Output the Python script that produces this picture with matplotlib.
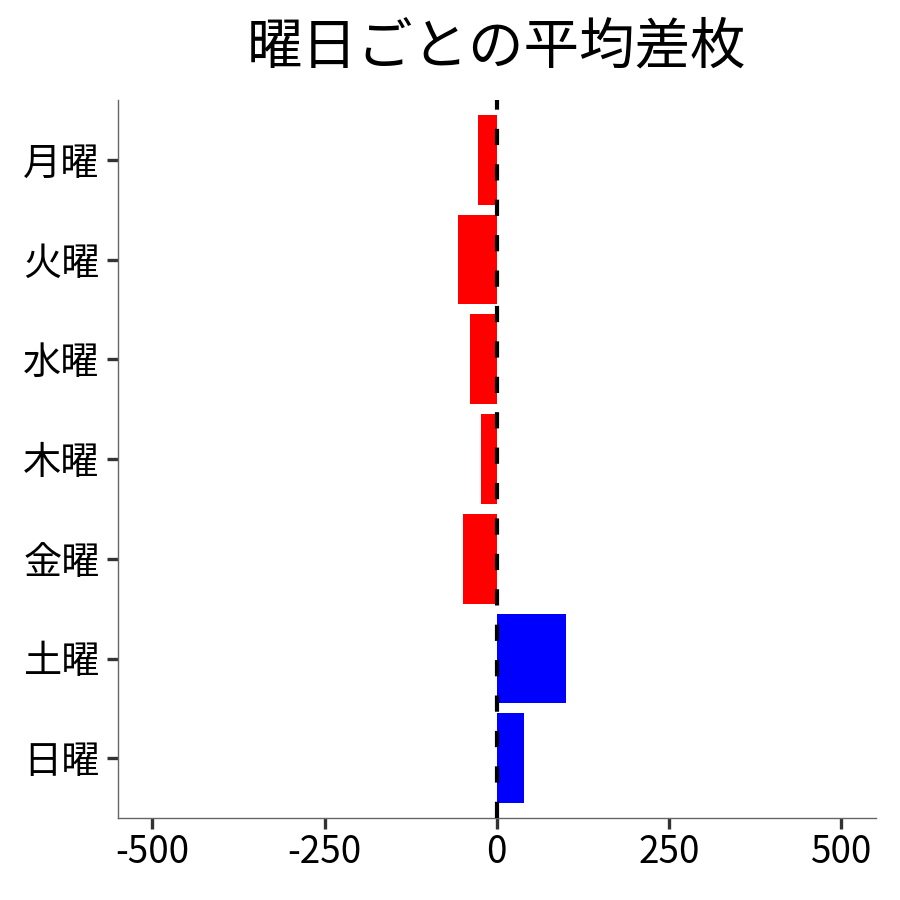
import numpy as np
import matplotlib
matplotlib.use("Agg")
import matplotlib.pyplot as plt

plt.rcParams['font.family'] = ['Noto Sans CJK JP', 'DejaVu Sans']

# 曜日ごとの平均差枚
days = ["月曜", "火曜", "水曜", "木曜", "金曜", "土曜", "日曜"]
diff = [-28, -56, -39, -23, -49, 100, 39]

colors = ["#0000FF" if v > 0 else "#FF0000" for v in diff]
ypos = np.arange(len(days))

fig = plt.figure(figsize=(9, 9), dpi=100)
ax = fig.add_axes([0.131, 0.091, 0.842, 0.798])

ax.barh(ypos, diff, height=0.9, color=colors, zorder=2)
ax.axvline(0, color="black", lw=3.0, linestyle=(0, (3.9, 4.6)), zorder=3)

ax.set_yticks(ypos)
ax.set_yticklabels(days)
ax.set_ylim(len(days) - 0.4, -0.6)
ax.set_xlim(-550, 550)
ax.set_xticks([-500, -250, 0, 250, 500])
ax.set_xticklabels(["-500", "-250", "0", "250", "500"])

for s in ["top", "right"]:
    ax.spines[s].set_visible(False)
for s in ["left", "bottom"]:
    ax.spines[s].set_color("#666666")
    ax.spines[s].set_linewidth(1.0)

ax.tick_params(axis="both", length=8, width=2.4, color="#333333")
ax.tick_params(axis="y", labelsize=27.5, pad=5)
ax.tick_params(axis="x", labelsize=26.5, pad=3)

ax.set_title("曜日ごとの平均差枚", fontsize=40, pad=26)

fig.savefig("out.png", dpi=100)
